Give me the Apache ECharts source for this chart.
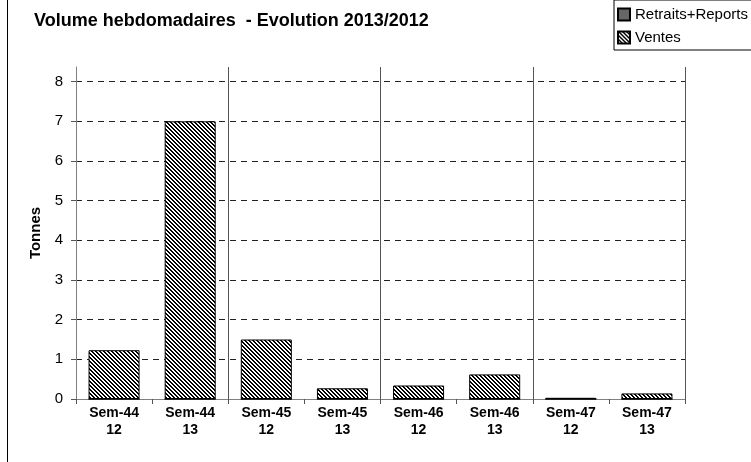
<!DOCTYPE html>
<html>
<head>
<meta charset="utf-8">
<script src="https://cdn.jsdelivr.net/npm/echarts@6/dist/echarts.min.js"></script>
<style>html,body{margin:0;padding:0;background:#fff;}#c{width:751px;height:462px;}</style>
</head>
<body>
<div id="c"></div>
<script>
var weeks = ['Sem-44', 'Sem-44', 'Sem-45', 'Sem-45', 'Sem-46', 'Sem-46', 'Sem-47', 'Sem-47'];
var years = ['12', '13', '12', '13', '12', '13', '12', '13'];
var groups = ['Sem-44', 'Sem-45', 'Sem-46', 'Sem-47'];
var retraitsReports = [0, 0, 0, 0, 0, 0, 0, 0];
var ventes = [1.23, 7.0, 1.5, 0.27, 0.34, 0.62, 0.03, 0.14];
var yTicks = [0, 1, 2, 3, 4, 5, 6, 7, 8];

var categories = weeks.map(function (w, i) { return w + '\n' + years[i]; });

function hatch() {
  var c = document.createElement('canvas');
  c.width = 4; c.height = 4;
  var ctx = c.getContext('2d');
  ctx.fillStyle = '#fff'; ctx.fillRect(0, 0, 4, 4);
  ctx.fillStyle = '#000';
  for (var y = 0; y < 4; y++) for (var x = 0; x < 4; x++) {
    if (((x - y) % 4 + 4) % 4 < 2) ctx.fillRect(x, y, 1, 1);
  }
  return c;
}
function dense() {
  var c = document.createElement('canvas');
  c.width = 2; c.height = 2;
  var ctx = c.getContext('2d');
  ctx.fillStyle = '#aaa'; ctx.fillRect(0, 0, 2, 2);
  ctx.fillStyle = '#222'; ctx.fillRect(0, 0, 1, 1); ctx.fillRect(1, 1, 1, 1);
  return c;
}
var FONT = '"Liberation Sans", Arial, sans-serif';
var chart = echarts.init(document.getElementById('c'), null, { renderer: 'canvas' });
chart.setOption({
  animation: false,
  backgroundColor: '#fff',
  textStyle: { fontFamily: FONT },
  title: {
    text: 'Volume hebdomadaires  - Evolution 2013/2012',
    left: 29, top: 7,
    textStyle: { fontFamily: FONT, fontSize: 18, fontWeight: 'bold', color: '#000' }
  },
  legend: {
    orient: 'vertical',
    left: 614, top: 0,
    padding: [6, 12, 4, 3],
    itemGap: 6,
    itemWidth: 12, itemHeight: 12,
    icon: 'rect',
    borderColor: '#000', borderWidth: 1,
    borderRadius: 0,
    textStyle: { fontFamily: FONT, fontSize: 15, color: '#000', lineHeight: 17 },
    data: ['Retraits+Reports', 'Ventes']
  },
  graphic: [{
    type: 'line', shape: { x1: 7.5, y1: 0, x2: 7.5, y2: 462 },
    style: { stroke: '#000', lineWidth: 1 }
  }],
  grid: { left: 76, right: 66, top: 67, bottom: 63, containLabel: false },
  xAxis: [{
    type: 'category',
    data: categories,
    axisLine: { lineStyle: { color: '#808080', width: 1 } },
    axisTick: { show: true, length: 5, lineStyle: { color: '#555' } },
    axisLabel: { fontFamily: FONT, fontSize: 14, fontWeight: 'bold', color: '#000', margin: 6, lineHeight: 17, interval: 0 },
    splitLine: { show: false }
  }, {
    type: 'category',
    data: groups,
    position: 'bottom',
    axisLine: { show: false },
    axisTick: { show: false },
    axisLabel: { show: false },
    splitLine: { show: true, interval: 0, lineStyle: { color: '#555', width: 1 } }
  }],
  yAxis: {
    type: 'value',
    min: 0, max: 8.37, interval: 1,
    name: 'Tonnes',
    nameLocation: 'middle',
    nameGap: 29,
    nameTextStyle: { fontFamily: FONT, fontSize: 15, fontWeight: 'bold', color: '#000' },
    axisLine: { show: true, lineStyle: { color: '#808080', width: 1 } },
    axisTick: { show: true, length: 5, customValues: yTicks, lineStyle: { color: '#555' } },
    axisLabel: { fontFamily: FONT, fontSize: 15, color: '#000', margin: 13, customValues: yTicks },
    splitLine: { show: true, showMinLine: false, showMaxLine: true, lineStyle: { color: '#222', type: [6, 5], width: 1 } }
  },
  series: [{
    name: 'Retraits+Reports',
    type: 'bar', stack: 'a',
    barWidth: '67%',
    data: retraitsReports,
    itemStyle: { color: { image: dense(), repeat: 'repeat' }, borderColor: '#000', borderWidth: 1 }
  }, {
    name: 'Ventes',
    type: 'bar', stack: 'a',
    barWidth: '67%',
    data: ventes,
    itemStyle: { color: { image: hatch(), repeat: 'repeat' }, borderColor: '#000', borderWidth: 1 }
  }]
});
</script>
</body>
</html>
